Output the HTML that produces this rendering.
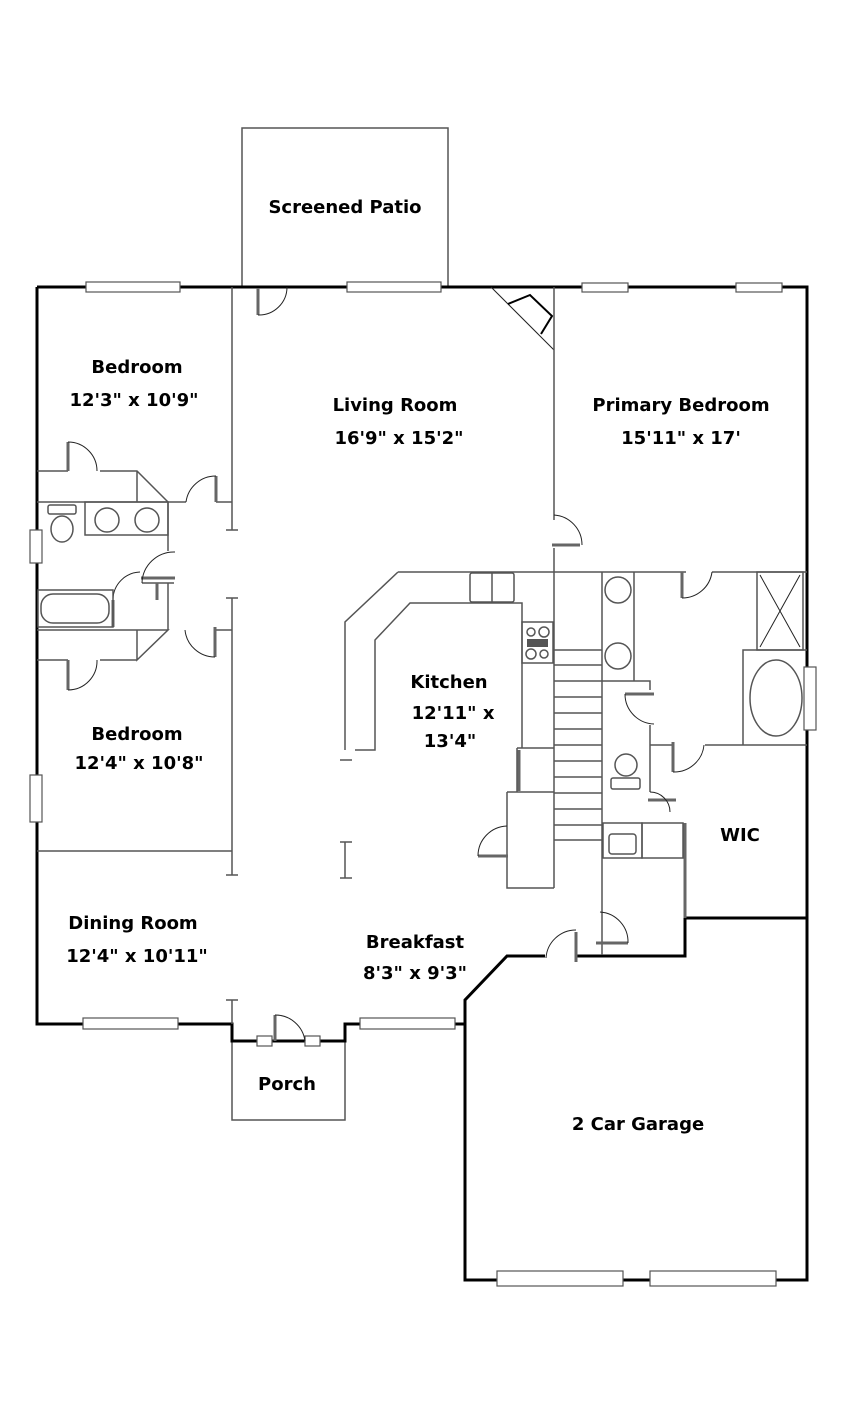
<!DOCTYPE html>
<html><head><meta charset="utf-8"><style>
html,body{margin:0;padding:0;background:#fff;}
svg{display:block}
text{font-family:"DejaVu Sans","Liberation Sans",sans-serif;font-weight:bold;font-size:18px;fill:#000;text-anchor:middle}
.w{stroke:#000;stroke-width:3;fill:none}
.t{stroke:#555;stroke-width:1.5;fill:none}
.d{stroke:#666;stroke-width:3;fill:none}
.a{stroke:#222;stroke-width:1;fill:none}
.win{fill:#fff;stroke:#555;stroke-width:1.2}
</style></head><body>
<svg width="860" height="1401" viewBox="0 0 860 1401">
<rect class="t" x="242" y="128" width="206" height="159"/>
<path class="t" d="M232 1041 V1120 H345 V1041"/>
<path class="w" d="M37 287 H807 V1280 H465 V1000 L507 956 H545 M576 956 H685 V918 H807"/>
<path class="w" d="M37 287 V1024 H232 V1041 H345 V1024 H465"/>
<rect class="win" x="86" y="282" width="94" height="10"/>
<rect class="win" x="347" y="282" width="94" height="10"/>
<rect class="win" x="582" y="283" width="46" height="9"/>
<rect class="win" x="736" y="283" width="46" height="9"/>
<rect class="win" x="30" y="530" width="12" height="33"/>
<rect class="win" x="30" y="775" width="12" height="47"/>
<rect class="win" x="804" y="667" width="12" height="63"/>
<rect class="win" x="83" y="1018" width="95" height="11"/>
<rect class="win" x="360" y="1018" width="95" height="11"/>
<rect class="win" x="497" y="1271" width="126" height="15"/>
<rect class="win" x="650" y="1271" width="126" height="15"/>
<rect class="win" x="257" y="1036" width="15" height="10"/>
<rect class="win" x="305" y="1036" width="15" height="10"/>
<path class="d" d="M275 1041 V1015"/><path class="a" d="M275 1015 A30 30 0 0 1 305 1041"/>
<path class="d" d="M258 288 V315"/><path class="a" d="M258 315 A28 28 0 0 0 287 287"/>
<path class="a" d="M491 287 L554 350"/>
<path stroke="#000" stroke-width="2" fill="none" d="M508 304 L530 295 L552 316 L541 334"/>
<path class="t" d="M232 287 V530 M226 530 H238 M232 598 V875 M226 598 H238 M226 875 H238 M232 1000 V1024 M226 1000 H238"/>
<path class="t" d="M37 471 H68 M100 471 H137 L168 502 M137 471 V502 M37 502 H186 M216 502 H232 M168 502 V551 M142 583 H174 M157 583 V600 M168 583 V630 M37 630 H168 L137 660 V630 M37 660 H68 M100 660 H137 M215 630 H232 M37 851 H232"/>
<path class="d" d="M68 442 V471 M216 476 V502 M141 578 L175 578 M113 600 V627 M215 627 V657 M68 660 V690 M157 583 V600"/>
<path class="a" d="M68 442 A29 29 0 0 1 97 471 M216 476 A30 30 0 0 0 186 502 M175 552 A32 32 0 0 0 142 583 M113 599 A28 28 0 0 1 140 572 M215 657 A30 30 0 0 1 185 630 M68 690 A29 29 0 0 0 97 660"/>
<rect class="t" x="85" y="502" width="83" height="33"/>
<circle class="t" cx="107" cy="520" r="12"/><circle class="t" cx="147" cy="520" r="12"/>
<rect class="t" x="48" y="505" width="28" height="9" rx="2"/>
<ellipse class="t" cx="62" cy="529" rx="11" ry="13"/>
<rect class="t" x="38" y="590" width="75" height="37"/>
<rect class="t" x="41" y="594" width="68" height="29" rx="12"/>
<path class="t" d="M554 287 V520 M554 548 V572"/>
<path class="d" d="M552 545 H580"/><path class="a" d="M554 515 A30 30 0 0 1 582 545"/>
<path class="t" d="M398 572 H686 M712 572 H807 M398 572 L345 622 V750 M355 750 H375 V640 L410 603 H522 V748 M340 760 H352 M345 842 V878 M340 842 H352 M340 878 H352"/>
<rect class="t" x="470" y="573" width="44" height="29" rx="2"/>
<line class="t" x1="492" y1="573" x2="492" y2="602"/>
<rect class="t" x="522" y="622" width="31" height="41"/>
<circle class="t" cx="531" cy="632" r="4"/><circle class="t" cx="544" cy="632" r="5"/><circle class="t" cx="531" cy="654" r="5"/><circle class="t" cx="544" cy="654" r="4"/>
<rect x="527" y="639" width="21" height="8" fill="#555"/>
<path class="t" d="M554 572 V888 M602 572 V955 M554 650 H602 M554 665 H602 M554 681 H602 M554 697 H602 M554 713 H602 M554 729 H602 M554 745 H602 M554 761 H602 M554 777 H602 M554 793 H602 M554 809 H602 M554 825 H602 M554 840 H602"/>
<path class="t" d="M517 748 H554 M517 748 V792 M507 792 H554 M507 792 V856 M507 856 V888 H554"/>
<path class="d" d="M519 750 V791 M478 856 H508"/><path class="a" d="M478 856 A30 30 0 0 1 507 826"/>
<path class="t" d="M634 572 V681 M602 681 H650 V690 M650 725 V792 M650 745 H673 M705 745 H743 V650 H807 M743 650 V745 H807"/>
<path class="d" d="M682 572 V598 M625 694 H654 M673 742 V772 M648 800 H676 M685 823 V918"/>
<path class="a" d="M682 598 A30 30 0 0 0 712 572 M625 694 A30 30 0 0 0 654 724 M673 772 A30 30 0 0 0 704 745 M650 792 A20 20 0 0 1 670 812"/>
<circle class="t" cx="618" cy="590" r="13"/><circle class="t" cx="618" cy="656" r="13"/>
<rect class="t" x="757" y="572" width="46" height="78"/>
<path class="a" d="M760 575 L800 647 M800 575 L760 647"/>
<ellipse class="t" cx="776" cy="698" rx="26" ry="38"/>
<ellipse class="t" cx="626" cy="765" rx="11" ry="11"/>
<rect class="t" x="611" y="778" width="29" height="11" rx="2"/>
<rect class="t" x="603" y="823" width="39" height="35"/><rect class="t" x="609" y="834" width="27" height="20" rx="3"/>
<rect class="t" x="642" y="823" width="41" height="35"/>
<path class="d" d="M596 943 H628"/><path class="a" d="M600 912 A30 30 0 0 1 628 943"/>
<path class="d" d="M576 932 V962"/><path class="a" d="M546 958 A30 30 0 0 1 576 930"/>
<text x="345" y="213">Screened Patio</text>
<text x="137" y="373">Bedroom</text>
<text x="134" y="406">12'3" x 10'9"</text>
<text x="395" y="411">Living Room</text>
<text x="399" y="444">16'9" x 15'2"</text>
<text x="681" y="411">Primary Bedroom</text>
<text x="681" y="444">15'11" x 17'</text>
<text x="449" y="688">Kitchen</text>
<text x="453" y="719">12'11" x</text>
<text x="450" y="747">13'4"</text>
<text x="137" y="740">Bedroom</text>
<text x="139" y="769">12'4" x 10'8"</text>
<text x="740" y="841">WIC</text>
<text x="133" y="929">Dining Room</text>
<text x="137" y="962">12'4" x 10'11"</text>
<text x="415" y="948">Breakfast</text>
<text x="415" y="979">8'3" x 9'3"</text>
<text x="287" y="1090">Porch</text>
<text x="638" y="1130">2 Car Garage</text>
</svg>
</body></html>
